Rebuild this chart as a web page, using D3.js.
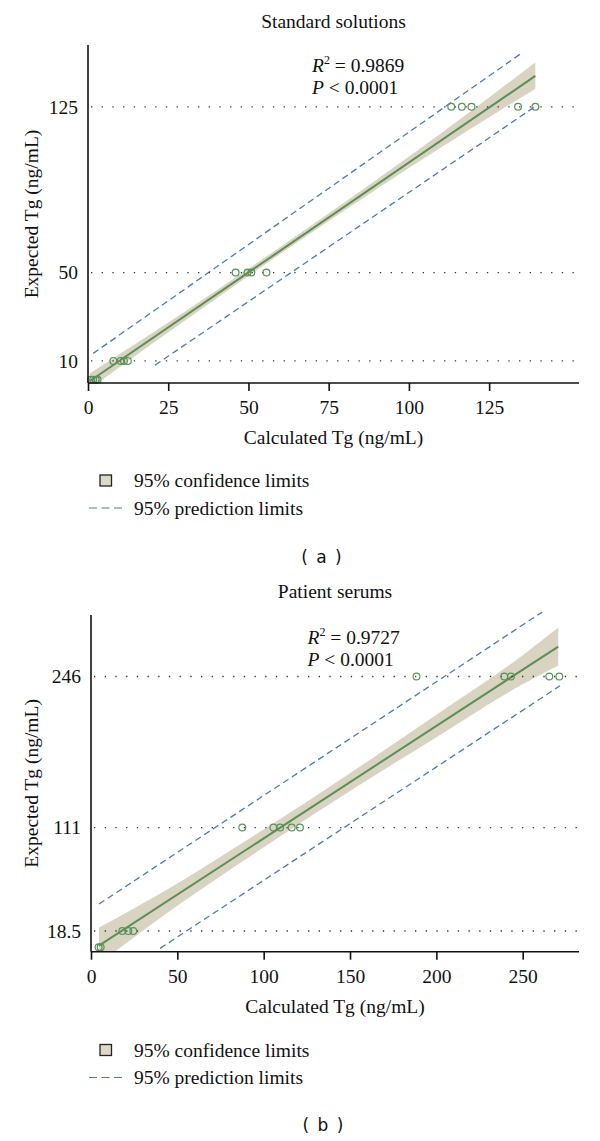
<!DOCTYPE html>
<html><head><meta charset="utf-8">
<script src="https://cdn.jsdelivr.net/npm/d3@7"></script>
<style>
html,body{margin:0;padding:0;background:#fff;}
svg{display:block;}
</style></head>
<body>
<svg id="chart" width="600" height="1141"></svg>
<script>
// ---------- Panel (a): Standard solutions ----------
const aTitle = "Standard solutions";
const aStats = ["0.9869", "0.0001"];
const aXTicks = [0, 25, 50, 75, 100, 125];
const aYTicks = [10, 50, 125];
const aPointsX = [0.9, 1.6, 2.4, 3.0, 7.9, 10.2, 11.2, 12.4, 46.0, 49.7, 50.9, 55.6, 113.2, 116.5, 119.5, 134.0, 139.4];
const aPointsY = [1.5, 1.5, 1.5, 1.5, 10, 10, 10, 10, 50, 50, 50, 50, 125, 125, 125, 125, 125];
const aFitX = [0.5, 139.4];
const aFitY = [0.8, 139.0];
const aBandX = [0.5, 20, 40, 60, 80, 100, 120, 139.4];
const aBandHi = [4.3, 22.6, 41.9, 61.7, 81.8, 102.5, 123.8, 145.2];
const aBandLo = [-2.7, 17.8, 38.3, 58.5, 78.2, 97.3, 115.8, 133.2];
const aPredUpX = [1.6, 135.0];
const aPredUpY = [13.4, 149.2];
const aPredLoX = [20.9, 139.5];
const aPredLoY = [8.1, 125.3];

// ---------- Panel (b): Patient serums ----------
const bTitle = "Patient serums";
const bStats = ["0.9727", "0.0001"];
const bXTicks = [0, 50, 100, 150, 200, 250];
const bYTicks = [18.5, 111, 246];
const bPointsX = [4.4, 5.6, 18.1, 21.6, 24.5, 87.6, 105.6, 109.5, 116.2, 121.0, 188.5, 239.3, 243.2, 265.4, 271.2];
const bPointsY = [4, 4, 18.5, 18.5, 18.5, 111, 111, 111, 111, 111, 246, 246, 246, 246, 246];
const bFitX = [4.6, 270.6];
const bFitY = [5.4, 272.8];
const bBandX = [4.6, 50, 100, 150, 200, 250, 270.6];
const bBandHi = [21.4, 61.0, 109.3, 159.6, 211.8, 265.1, 289.8];
const bBandLo = [-10.6, 41.0, 93.3, 143.6, 191.8, 239.1, 255.8];
const bPredUpX = [4.6, 261.3];
const bPredUpY = [42.6, 303.6];
const bPredLoX = [40.0, 271.6];
const bPredLoY = [3.0, 237.7];

const legendLabels = ["95% confidence limits", "95% prediction limits"];
const xTitle = "Calculated Tg (ng/mL)";
const yTitle = "Expected Tg (ng/mL)";

const SERIF = "'Liberation Serif', 'Times New Roman', serif";
const FS = 19.5;
const COL_BAND = "#d9d4c1";
const COL_FIT = "#5d8e58";
const COL_PT = "#5b9159";
const COL_PRED = "#4d78b6";

const svg = d3.select("#chart");

function panel(o) {
  const g = svg.append("g");
  const x = d3.scaleLinear().domain(o.xDomain).range([o.left, o.right]);
  const y = d3.scaleLinear().domain(o.yDomain).range([o.bottom, o.top]);

  const clipId = "clip" + o.id;
  g.append("clipPath").attr("id", clipId).append("rect")
    .attr("x", o.left).attr("y", o.top - 10).attr("width", o.right - o.left).attr("height", o.bottom - o.top + 10);

  const plot = g.append("g").attr("clip-path", `url(#${clipId})`);

  // confidence band
  const band = o.bandX.map((v, i) => ({x: v, lo: o.bandLo[i], hi: o.bandHi[i]}));
  plot.append("path").datum(band)
    .attr("fill", COL_BAND).attr("stroke", "none")
    .attr("d", d3.area().curve(d3.curveMonotoneX).x(d => x(d.x)).y0(d => y(d.lo)).y1(d => y(d.hi)));

  // dotted reference lines
  g.selectAll(".grid").data(o.yTicks).enter().append("line")
    .attr("x1", o.left + 3).attr("x2", o.right)
    .attr("y1", d => y(d)).attr("y2", d => y(d))
    .attr("stroke", "#333").attr("stroke-width", 1.3)
    .attr("stroke-dasharray", "1.3,9.4");

  // prediction limits
  const line = d3.line().x(d => x(d[0])).y(d => y(d[1]));
  [[o.predUpX, o.predUpY], [o.predLoX, o.predLoY]].forEach(([xs, ys]) => {
    plot.append("path").datum(xs.map((v, i) => [v, ys[i]]))
      .attr("fill", "none").attr("stroke", COL_PRED).attr("stroke-width", 1.3)
      .attr("stroke-dasharray", "6.5,4").attr("d", line);
  });

  // fit line
  plot.append("path").datum(o.fitX.map((v, i) => [v, o.fitY[i]]))
    .attr("fill", "none").attr("stroke", COL_FIT).attr("stroke-width", 2).attr("d", line);

  // points
  g.selectAll(".pt").data(o.ptsX.map((v, i) => [v, o.ptsY[i]])).enter().append("circle")
    .attr("cx", d => x(d[0])).attr("cy", d => y(d[1])).attr("r", 3.4)
    .attr("fill", "none").attr("stroke", COL_PT).attr("stroke-width", 1.2);

  // axes
  const xAxis = g.append("g").attr("transform", `translate(0,${o.bottom})`)
    .call(d3.axisBottom(x).tickValues(o.xTicks).tickSize(8).tickPadding(9).tickSizeOuter(0));
  const yAxis = g.append("g").attr("transform", `translate(${o.left},0)`)
    .call(d3.axisLeft(y).tickValues(o.yTicks).tickSize(0).tickPadding(10).tickSizeOuter(0).tickFormat(d => String(d)));
  [xAxis, yAxis].forEach(a => {
    a.select(".domain").attr("stroke", "#111").attr("stroke-width", 1.6);
    a.selectAll(".tick line").attr("stroke", "#111").attr("stroke-width", 1.6);
    a.selectAll("text").attr("font-family", SERIF).attr("font-size", FS).attr("fill", "#111");
  });
  yAxis.select(".domain").attr("d", `M0,${o.top}V${o.bottom}`);
  xAxis.select(".domain").attr("d", `M${o.left},0H${o.right}`);

  const cx = (o.left + o.right) / 2;
  // title
  g.append("text").attr("x", cx).attr("y", o.top - 17).attr("text-anchor", "middle")
    .attr("font-family", SERIF).attr("font-size", FS).attr("fill", "#111").text(o.title);
  // stats
  const s1 = g.append("text").attr("x", o.statX).attr("y", o.statY)
    .attr("font-family", SERIF).attr("font-size", FS).attr("fill", "#111");
  s1.append("tspan").attr("font-style", "italic").text("R");
  s1.append("tspan").attr("font-size", 12).attr("dy", -8).text("2");
  s1.append("tspan").attr("dy", 8).text(" = " + o.stats[0]);
  const s2 = g.append("text").attr("x", o.statX).attr("y", o.statY + 21.5)
    .attr("font-family", SERIF).attr("font-size", FS).attr("fill", "#111");
  s2.append("tspan").attr("font-style", "italic").text("P");
  s2.append("tspan").text(" < " + o.stats[1]);

  // axis titles
  g.append("text").attr("x", cx).attr("y", o.bottom + 61).attr("text-anchor", "middle")
    .attr("font-family", SERIF).attr("font-size", FS).attr("fill", "#111").text(xTitle);
  g.append("text").attr("transform", `translate(38,${(o.top + o.bottom) / 2}) rotate(-90)`)
    .attr("text-anchor", "middle")
    .attr("font-family", SERIF).attr("font-size", FS).attr("fill", "#111").text(yTitle);

  // legend
  g.append("rect").attr("x", 100).attr("y", o.legY - 5.5).attr("width", 11.5).attr("height", 11)
    .attr("fill", "#ddd9c7").attr("stroke", "#222").attr("stroke-width", 1.3);
  g.append("line").attr("x1", 89).attr("x2", 122).attr("y1", o.legY + 27.5).attr("y2", o.legY + 27.5)
    .attr("stroke", COL_PRED).attr("stroke-width", 1.2).attr("stroke-dasharray", "8,4.5");
  legendLabels.forEach((t, i) => {
    g.append("text").attr("x", 134).attr("y", o.legY + i * 27.5 + 6.5)
      .attr("font-family", SERIF).attr("font-size", FS).attr("fill", "#111").text(t);
  });

  // panel label
  g.append("text").attr("x", o.labX).attr("y", o.labY).attr("text-anchor", "middle")
    .attr("font-family", "'DejaVu Sans', sans-serif").attr("font-size", 17).attr("fill", "#111")
    .attr("word-spacing", 3).attr("xml:space", "preserve").text(o.label);
}

panel({
  id: "a", left: 88, right: 579, top: 45, bottom: 383,
  xDomain: [0, 153], yDomain: [0, 153],
  xTicks: aXTicks, yTicks: aYTicks, title: aTitle, stats: aStats,
  ptsX: aPointsX, ptsY: aPointsY, fitX: aFitX, fitY: aFitY,
  bandX: aBandX, bandHi: aBandHi, bandLo: aBandLo,
  predUpX: aPredUpX, predUpY: aPredUpY, predLoX: aPredLoX, predLoY: aPredLoY,
  statX: 312, statY: 72, legY: 480.5, labX: 321.5, labY: 562.5, label: "( a )"
});

panel({
  id: "b", left: 91, right: 579, top: 615, bottom: 951.7,
  xDomain: [0, 282.6], yDomain: [0, 301],
  xTicks: bXTicks, yTicks: bYTicks, title: bTitle, stats: bStats,
  ptsX: bPointsX, ptsY: bPointsY, fitX: bFitX, fitY: bFitY,
  bandX: bBandX, bandHi: bBandHi, bandLo: bBandLo,
  predUpX: bPredUpX, predUpY: bPredUpY, predLoX: bPredLoX, predLoY: bPredLoY,
  statX: 307.5, statY: 644, legY: 1050, labX: 323, labY: 1130.5, label: "( b )"
});
</script>
</body></html>
